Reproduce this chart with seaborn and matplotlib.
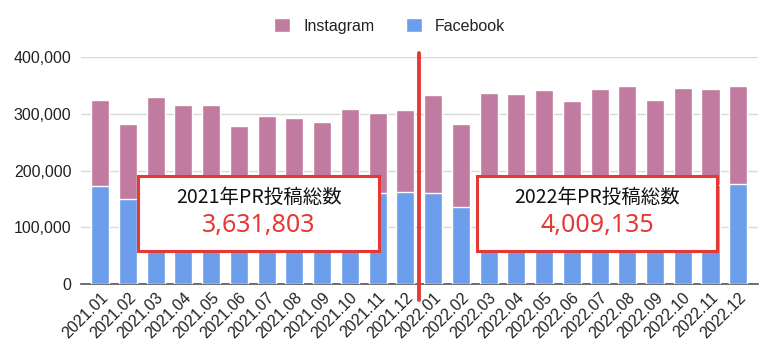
"""
SNS PR posts per month, 2021-2022 (stacked Facebook + Instagram).
"""

import matplotlib.pyplot as plt
import matplotlib.ticker as mticker
from matplotlib.patches import Patch, Rectangle
import numpy as np
import pandas as pd
import seaborn as sns

MONTHS = [f"2021.{m:02d}" for m in range(1, 13)] + [f"2022.{m:02d}" for m in range(1, 13)]

# values (bars partly hidden behind the boxes are estimates)
FACEBOOK = [173000, 150000, 165000, 160000, 158000, 155000, 160000, 158000, 155000, 162000, 160000, 162000,
            160000, 136000, 165000, 168000, 170000, 162000, 170000, 172000, 165000, 175000, 175000, 177000]
INSTAGRAM = [151000, 132000, 165000, 155000, 157000, 123000, 136000, 134000, 130000, 146000, 141000, 144000,
             173000, 146000, 172000, 167000, 172000, 160000, 174000, 177000, 159000, 171000, 169000, 172000]

YEAR_LABELS = ["2021年PR投稿総数", "2022年PR投稿総数"]
YEAR_TOTALS = ["3,631,803", "4,009,135"]

IG_COLOR = "#C27BA0"
FB_COLOR = "#6D9EEB"
RED = "#E53935"

sns.set_theme(style="white")
plt.rcParams["font.family"] = ["Liberation Sans", "Noto Sans CJK JP", "DejaVu Sans"]

df = pd.DataFrame({"month": MONTHS, "facebook": FACEBOOK, "instagram": INSTAGRAM})
df["total"] = df["facebook"] + df["instagram"]

fig = plt.figure(figsize=(7.75, 3.55), dpi=100)
ax = fig.add_axes([0.1045, 0.2, 0.8735, 0.6394])

# stacked bars: draw totals first, facebook over them
sns.barplot(data=df, x="month", y="total", color=IG_COLOR, saturation=1, width=0.65, ax=ax, zorder=2)
sns.barplot(data=df, x="month", y="facebook", color=FB_COLOR, saturation=1, width=0.65, ax=ax, zorder=3)

ax.set_ylim(0, 400000)
ax.set_xlim(-0.69, 23.71)
ax.yaxis.set_major_locator(mticker.MultipleLocator(100000))
ax.yaxis.set_major_formatter(mticker.FuncFormatter(lambda v, p: f"{int(v):,}"))
ax.grid(axis="y", color="#d9d9d9", linewidth=1, zorder=0)
ax.set_axisbelow(True)
for s in ["top", "right", "left"]:
    ax.spines[s].set_visible(False)
ax.spines["bottom"].set_color("#555555")
ax.spines["bottom"].set_linewidth(1.2)
ax.set_xlabel("")
ax.set_ylabel("")
ax.tick_params(axis="y", length=0, labelsize=11.5, labelcolor="#222222", pad=7)
ax.tick_params(axis="x", length=0, labelsize=11.5, labelcolor="#222222", pad=4)
plt.setp(ax.get_xticklabels(), rotation=45, ha="right", rotation_mode="anchor")

# red divider between years
ax.plot([11.5, 11.5], [-28000, 407000], color=RED, linewidth=2.8, clip_on=False, zorder=6)

# yearly total boxes
boxes = [(1.37, 10.06), (13.59, 22.24)]
for (x0, x1), label, total in zip(boxes, YEAR_LABELS, YEAR_TOTALS):
    ax.add_patch(Rectangle((x0, 58000), x1 - x0, 132000, facecolor="white",
                           edgecolor=RED, linewidth=2.2, zorder=5))
    cx = (x0 + x1) / 2
    ax.text(cx, 153000, label, ha="center", va="center", fontsize=14,
            family=["Noto Sans CJK JP"], color="#111111", zorder=6)
    ax.text(cx, 103000, total, ha="center", va="center", fontsize=18,
            family=["Noto Sans", "Noto Sans CJK JP"], color=RED, zorder=6)

handles = [Patch(facecolor=IG_COLOR, label="Instagram"), Patch(facecolor=FB_COLOR, label="Facebook")]
fig.legend(handles=handles, loc="center", bbox_to_anchor=(0.503, 0.927), ncol=2, frameon=False,
           handlelength=1.0, handleheight=1.0, handletextpad=0.8, columnspacing=2.0,
           fontsize=11.5, labelcolor="#222222")

fig.savefig("out.png", dpi=100)
